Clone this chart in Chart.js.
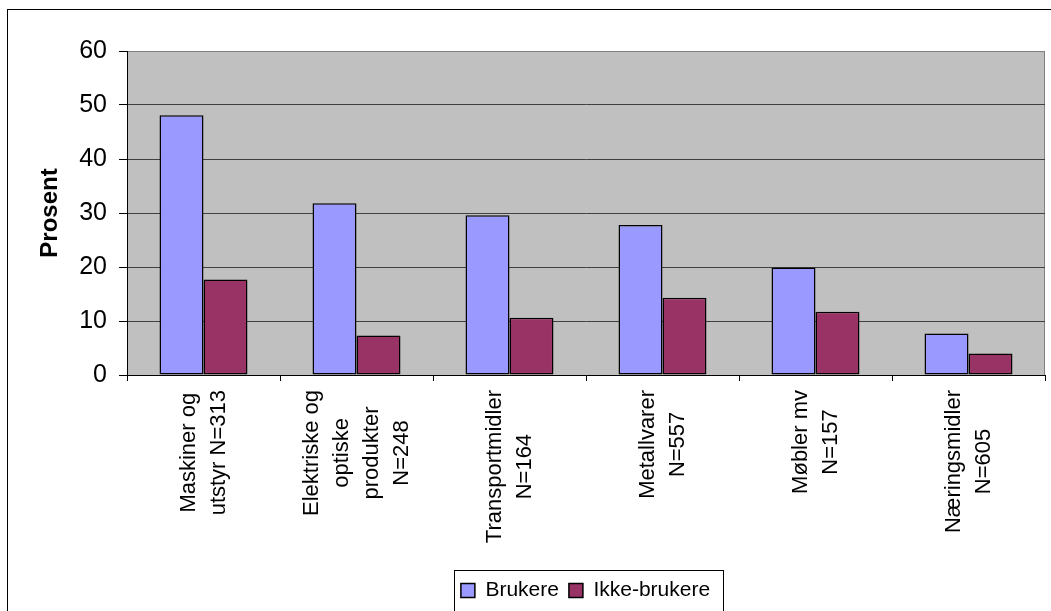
<!DOCTYPE html>
<html>
<head>
<meta charset="utf-8">
<script src="https://cdn.jsdelivr.net/npm/chart.js@4.4.1/dist/chart.umd.min.js"></script>
<style>
  html, body { margin: 0; padding: 0; background: #fff; }
  canvas { display: block; }
</style>
</head>
<body>
<canvas id="grafikk" width="1051" height="611"></canvas>
<script>
// Data lest av figuren
const kategorier = [
  ["Maskiner og", "utstyr N=313"],
  ["Elektriske og", "optiske", "produkter", "N=248"],
  ["Transportmidler", "N=164"],
  ["Metallvarer", "N=557"],
  ["Møbler mv", "N=157"],
  ["Næringsmidler", "N=605"]
];
const brukere = [48.1, 31.8, 29.6, 27.8, 19.9, 7.7];
const ikkeBrukere = [17.7, 7.3, 10.6, 14.3, 11.7, 4.0];
const yTicks = [0, 10, 20, 30, 40, 50, 60];

const FONT = "'Liberation Sans', Arial, sans-serif";
Chart.defaults.font.family = FONT;

// bakgrunn, ramme, kategoritekst og legenderamme
const excelStil = {
  id: "excelStil",
  afterLayout(chart) {
    // legenden står litt til høyre for midten i originalen
    chart.legend.left += 59;
    chart.legend.right += 59;
  },
  beforeDraw(chart) {
    const { ctx, chartArea: a } = chart;
    ctx.save();
    ctx.fillStyle = "#fff";
    ctx.fillRect(0, 0, chart.width, chart.height);
    ctx.strokeStyle = "#000";
    ctx.lineWidth = 1;
    ctx.strokeRect(7.5, 9.5, chart.width + 50, chart.height + 50);
    ctx.fillStyle = "#c0c0c0";
    ctx.fillRect(a.left, a.top, a.right - a.left, a.bottom - a.top);
    ctx.strokeStyle = "#808080";
    ctx.beginPath();
    ctx.moveTo(a.left, a.top + 0.5);
    ctx.lineTo(a.right - 0.5, a.top + 0.5);
    ctx.lineTo(a.right - 0.5, a.bottom);
    ctx.stroke();
    ctx.restore();
  },
  afterDraw(chart) {
    const { ctx } = chart;
    const xs = chart.scales.x;
    ctx.save();
    ctx.font = "22px " + FONT;
    ctx.fillStyle = "#000";
    ctx.textAlign = "center";
    ctx.textBaseline = "middle";
    const top = xs.top + 15;
    kategorier.forEach((linjer, i) => {
      const px = xs.getPixelForValue(i);
      const maxW = Math.max(...linjer.map(l => ctx.measureText(l).width));
      ctx.save();
      ctx.translate(px, top);
      ctx.rotate(-Math.PI / 2);
      linjer.forEach((l, j) => {
        ctx.fillText(l, -maxW / 2, (j - (linjer.length - 1) / 2) * 30);
      });
      ctx.restore();
    });

    const hb = chart.legend.legendHitBoxes;
    if (hb && hb.length) {
      const first = hb[0], last = hb[hb.length - 1];
      const l = Math.round(first.left - 7) + 0.5;
      const r = Math.round(last.left + last.width + 13) + 0.5;
      const t = Math.round(first.top + first.height / 2 - 21) + 0.5;
      ctx.strokeStyle = "#000";
      ctx.lineWidth = 1;
      ctx.strokeRect(l, t, r - l, chart.height + 10 - t);
    }
    ctx.restore();
  }
};

new Chart(document.getElementById("grafikk"), {
  type: "bar",
  data: {
    labels: kategorier,
    datasets: [
      {
        label: "Brukere",
        data: brukere,
        backgroundColor: "#9999ff",
        borderColor: "#000",
        borderWidth: 1.5,
        borderSkipped: false
      },
      {
        label: "Ikke-brukere",
        data: ikkeBrukere,
        backgroundColor: "#993366",
        borderColor: "#000",
        borderWidth: 1.5,
        borderSkipped: false
      }
    ]
  },
  options: {
    responsive: false,
    animation: false,
    layout: { padding: { left: 8, top: 51, right: 6, bottom: 0 } },
    datasets: { bar: { categoryPercentage: 0.575, barPercentage: 1 } },
    plugins: {
      tooltip: { enabled: false },
      legend: {
        position: "bottom",
        labels: {
          color: "#000",
          font: { size: 21 },
          boxWidth: 14,
          boxHeight: 14,
          padding: 10
        }
      }
    },
    scales: {
      x: {
        grid: { offset: true, drawOnChartArea: false, drawTicks: true, tickLength: 6, color: "#000" },
        border: { color: "#000", width: 1 },
        ticks: { color: "transparent", minRotation: 90, maxRotation: 90, autoSkip: false, font: { size: 22 } },
        afterFit(s) { s.height = 195; }
      },
      y: {
        min: yTicks[0],
        max: yTicks[yTicks.length - 1],
        ticks: { stepSize: 10, color: "#000", padding: 12, font: { size: 25 } },
        grid: {
          color: c => (c.tick && c.tick.value === 60 ? "#808080" : "#404040"),
          tickColor: "#000",
          tickLength: 8
        },
        border: { color: "#000", width: 1 },
        title: {
          display: true,
          text: "Prosent",
          color: "#000",
          font: { size: 24, weight: "bold" },
          padding: { top: 28, bottom: 0 }
        },
        afterFit(s) { s.width = 119; }
      }
    }
  },
  plugins: [excelStil]
});
</script>
</body>
</html>
